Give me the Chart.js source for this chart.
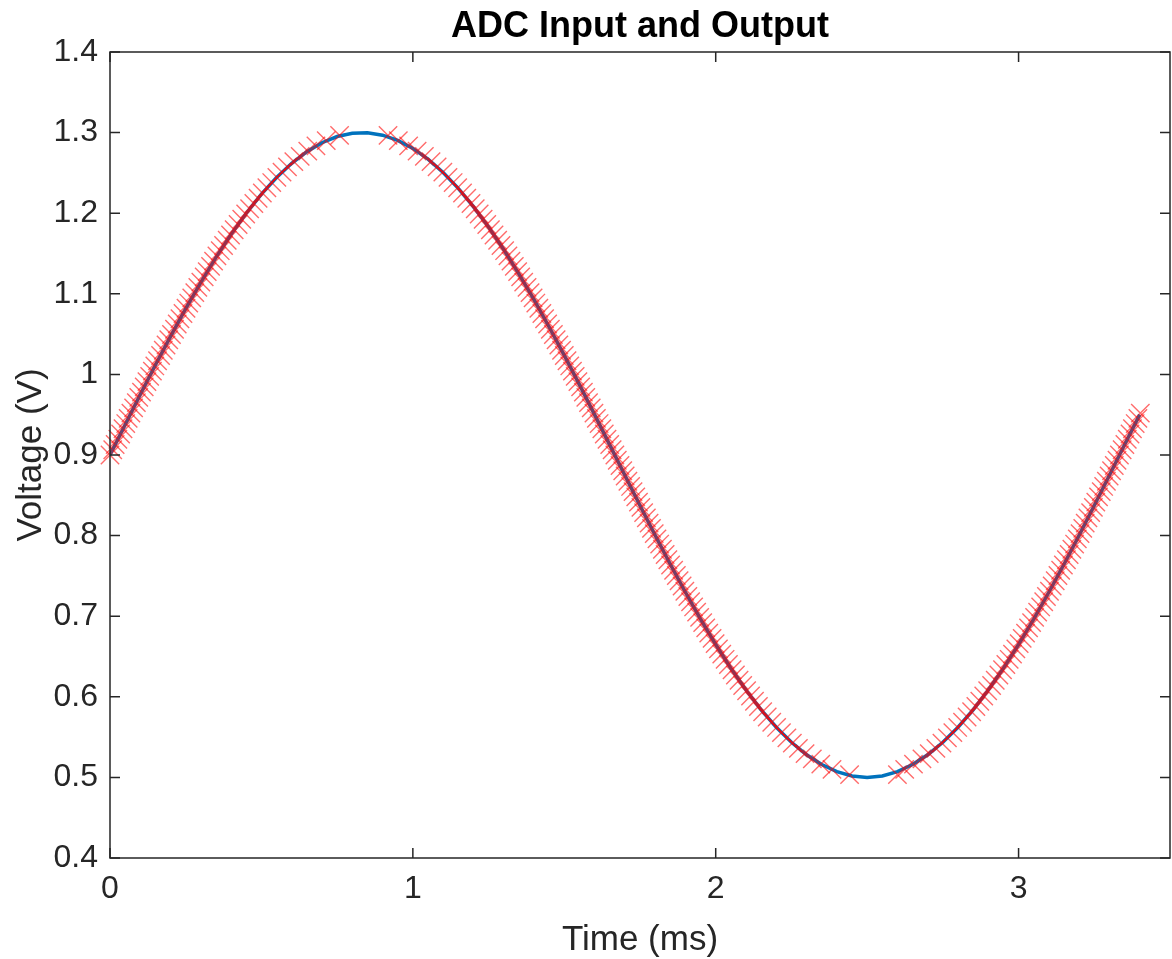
<!DOCTYPE html>
<html>
<head>
<meta charset="utf-8">
<title>ADC Input and Output</title>
<script src="https://cdn.jsdelivr.net/npm/chart.js@4.4.1/dist/chart.umd.min.js"></script>
<style>
  html, body { margin: 0; padding: 0; background: #ffffff; }
  #adc-chart { display: block; }
</style>
</head>
<body>
<canvas id="adc-chart" width="1172" height="959"></canvas>
<script>
// 입력 신호 (파란 선) - 시간(ms), 전압(V)
const inTime = [
  0, 0.05, 0.1, 0.15, 0.2, 0.25, 0.3, 0.35, 0.4, 0.45,
  0.5, 0.55, 0.6, 0.65, 0.7, 0.75, 0.8, 0.85, 0.9, 0.95,
  1.0, 1.05, 1.1, 1.15, 1.2, 1.25, 1.3, 1.35, 1.4, 1.45,
  1.5, 1.55, 1.6, 1.65, 1.7, 1.75, 1.8, 1.85, 1.9, 1.95,
  2.0, 2.05, 2.1, 2.15, 2.2, 2.25, 2.3, 2.35, 2.4, 2.45,
  2.5, 2.55, 2.6, 2.65, 2.7, 2.75, 2.8, 2.85, 2.9, 2.95,
  3.0, 3.05, 3.1, 3.15, 3.2, 3.25, 3.3, 3.35, 3.4
];
const inVolt = [
  0.9000, 0.9376, 0.9750, 1.0116, 1.0472, 1.0816, 1.1143, 1.1452, 1.1738, 1.2000,
  1.2236, 1.2443, 1.2619, 1.2764, 1.2874, 1.2951, 1.2992, 1.2998, 1.2968, 1.2904,
  1.2804, 1.2671, 1.2505, 1.2308, 1.2082, 1.1828, 1.1550, 1.1248, 1.0927, 1.0588,
  1.0236, 0.9873, 0.9501, 0.9126, 0.8749, 0.8374, 0.8005, 0.7645, 0.7297, 0.6964,
  0.6649, 0.6355, 0.6084, 0.5839, 0.5623, 0.5436, 0.5281, 0.5159, 0.5071, 0.5018,
  0.5000, 0.5018, 0.5071, 0.5159, 0.5281, 0.5436, 0.5623, 0.5839, 0.6084, 0.6355,
  0.6649, 0.6964, 0.7297, 0.7645, 0.8005, 0.8374, 0.8749, 0.9126, 0.9501
];

// ADC 출력 레벨 (0.9V 위 / 아래)
const upperLevels = [
  0.9000, 0.9065, 0.9130, 0.9195, 0.9260, 0.9325, 0.9390, 0.9455, 0.9520, 0.9585,
  0.9650, 0.9715, 0.9780, 0.9845, 0.9910, 0.9975, 1.0040, 1.0105, 1.0170, 1.0235,
  1.0300, 1.0365, 1.0430, 1.0495, 1.0560, 1.0625, 1.0690, 1.0755, 1.0820, 1.0885,
  1.0950, 1.1015, 1.1080, 1.1145, 1.1210, 1.1275, 1.1340, 1.1405, 1.1470, 1.1535,
  1.1600, 1.1665, 1.1730, 1.1795, 1.1860, 1.1925, 1.1990, 1.2055, 1.2120, 1.2185,
  1.2250, 1.2315, 1.2380, 1.2445, 1.2510, 1.2575, 1.2640, 1.2705, 1.2770, 1.2835,
  1.2900, 1.2965
];
const lowerLevels = [
  0.8935, 0.8870, 0.8805, 0.8740, 0.8675, 0.8610, 0.8545, 0.8480, 0.8415, 0.8350,
  0.8285, 0.8220, 0.8155, 0.8090, 0.8025, 0.7960, 0.7895, 0.7830, 0.7765, 0.7700,
  0.7635, 0.7570, 0.7505, 0.7440, 0.7375, 0.7310, 0.7245, 0.7180, 0.7115, 0.7050,
  0.6985, 0.6920, 0.6855, 0.6790, 0.6725, 0.6660, 0.6595, 0.6530, 0.6465, 0.6400,
  0.6335, 0.6270, 0.6205, 0.6140, 0.6075, 0.6010, 0.5945, 0.5880, 0.5815, 0.5750,
  0.5685, 0.5620, 0.5555, 0.5490, 0.5425, 0.5360, 0.5295, 0.5230, 0.5165, 0.5100,
  0.5035
];

// 각 레벨에 도달한 시각 (ms)
const rise1Times = [
  0.000, 0.009, 0.017, 0.026, 0.035, 0.043, 0.052, 0.060, 0.069, 0.078,
  0.087, 0.095, 0.104, 0.113, 0.122, 0.131, 0.140, 0.148, 0.157, 0.167,
  0.176, 0.185, 0.194, 0.203, 0.213, 0.222, 0.231, 0.241, 0.251, 0.260,
  0.270, 0.280, 0.290, 0.300, 0.311, 0.321, 0.332, 0.342, 0.353, 0.364,
  0.375, 0.387, 0.398, 0.410, 0.423, 0.435, 0.448, 0.461, 0.475, 0.489,
  0.503, 0.518, 0.534, 0.551, 0.568, 0.586, 0.607, 0.628, 0.653, 0.680,
  0.714, 0.758
];
const fallHighTimes = [
  1.667, 1.658, 1.650, 1.641, 1.632, 1.624, 1.615, 1.606, 1.598, 1.589,
  1.580, 1.571, 1.563, 1.554, 1.545, 1.536, 1.527, 1.518, 1.509, 1.500,
  1.491, 1.482, 1.473, 1.464, 1.454, 1.445, 1.435, 1.426, 1.416, 1.406,
  1.397, 1.387, 1.377, 1.366, 1.356, 1.346, 1.335, 1.324, 1.314, 1.303,
  1.291, 1.280, 1.268, 1.256, 1.244, 1.232, 1.219, 1.206, 1.192, 1.178,
  1.164, 1.148, 1.133, 1.116, 1.099, 1.080, 1.060, 1.038, 1.014, 0.986,
  0.952, 0.918
];
const fallLowTimes = [
  1.675, 1.684, 1.693, 1.701, 1.710, 1.719, 1.727, 1.736, 1.745, 1.753,
  1.762, 1.771, 1.780, 1.788, 1.797, 1.806, 1.815, 1.824, 1.833, 1.842,
  1.851, 1.861, 1.870, 1.879, 1.889, 1.898, 1.908, 1.917, 1.927, 1.937,
  1.947, 1.957, 1.967, 1.977, 1.988, 1.998, 2.009, 2.020, 2.031, 2.042,
  2.054, 2.065, 2.077, 2.089, 2.102, 2.115, 2.128, 2.141, 2.155, 2.170,
  2.185, 2.201, 2.217, 2.235, 2.253, 2.273, 2.295, 2.319, 2.347, 2.384,
  2.442
];
const riseLowTimes = [
  3.325, 3.316, 3.307, 3.299, 3.290, 3.281, 3.273, 3.264, 3.255, 3.247,
  3.238, 3.229, 3.220, 3.212, 3.203, 3.194, 3.185, 3.176, 3.167, 3.158,
  3.148, 3.139, 3.130, 3.121, 3.111, 3.102, 3.092, 3.083, 3.073, 3.063,
  3.053, 3.043, 3.033, 3.023, 3.012, 3.002, 2.991, 2.980, 2.969, 2.958,
  2.947, 2.935, 2.923, 2.911, 2.898, 2.885, 2.872, 2.859, 2.845, 2.830,
  2.815, 2.799, 2.783, 2.765, 2.747, 2.727, 2.705, 2.681, 2.653, 2.624,
  2.600
];
const rise2Times = [3.333, 3.342, 3.351, 3.359, 3.368, 3.376, 3.385, 3.394, 3.402];

// 축 눈금
const xTickValues = [0, 1, 2, 3];
const yTickValues = [0.4, 0.5, 0.6, 0.7, 0.8, 0.9, 1.0, 1.1, 1.2, 1.3, 1.4];
const yTickLabels = ["0.4", "0.5", "0.6", "0.7", "0.8", "0.9", "1", "1.1", "1.2", "1.3", "1.4"];

const FONT = "'Liberation Sans', Arial, Helvetica, sans-serif";
const AXIS_COLOR = "#262626";
const MARKER_COLOR = "rgba(255, 0, 0, 0.58)";

// 데이터 포인트 만들기
const inputPoints = inTime.map((t, i) => ({ x: t, y: inVolt[i] }));
const outputPoints = [
  ...rise1Times.map((t, i) => ({ x: t, y: upperLevels[i] })),
  ...fallHighTimes.map((t, i) => ({ x: t, y: upperLevels[i] })),
  ...fallLowTimes.map((t, i) => ({ x: t, y: lowerLevels[i] })),
  ...riseLowTimes.map((t, i) => ({ x: t, y: lowerLevels[i] })),
  ...rise2Times.map((t, i) => ({ x: t, y: upperLevels[i] })),
];

// MATLAB 스타일 박스 + 안쪽 눈금 + 제목/축 제목
const matlabAxes = {
  id: "matlabAxes",
  afterDraw(chart) {
    const { ctx, chartArea: area, scales } = chart;
    const tickLen = 10;
    ctx.save();
    ctx.strokeStyle = AXIS_COLOR;
    ctx.lineWidth = 1.5;
    ctx.strokeRect(area.left, area.top, area.right - area.left, area.bottom - area.top);

    ctx.beginPath();
    xTickValues.forEach((v) => {
      const x = scales.x.getPixelForValue(v);
      ctx.moveTo(x, area.bottom);
      ctx.lineTo(x, area.bottom - tickLen);
      ctx.moveTo(x, area.top);
      ctx.lineTo(x, area.top + tickLen);
    });
    yTickValues.forEach((v) => {
      const y = scales.y.getPixelForValue(v);
      ctx.moveTo(area.left, y);
      ctx.lineTo(area.left + tickLen, y);
      ctx.moveTo(area.right, y);
      ctx.lineTo(area.right - tickLen, y);
    });
    ctx.stroke();

    const centerX = (area.left + area.right) / 2;
    ctx.textAlign = "center";
    ctx.textBaseline = "alphabetic";

    // 제목
    ctx.fillStyle = "#000000";
    ctx.font = "bold 36px " + FONT;
    ctx.fillText("ADC Input and Output", centerX, 37);

    // x축 제목
    ctx.fillStyle = AXIS_COLOR;
    ctx.font = "35px " + FONT;
    ctx.fillText("Time (ms)", centerX, 950);

    // y축 제목 (세로)
    ctx.translate(41, (area.top + area.bottom) / 2);
    ctx.rotate(-Math.PI / 2);
    ctx.fillText("Voltage (V)", 0, 0);
    ctx.restore();
  },
};

const ctx = document.getElementById("adc-chart").getContext("2d");

window.adcChart = new Chart(ctx, {
  type: "scatter",
  data: {
    datasets: [
      {
        label: "ADC Output",
        data: outputPoints,
        showLine: false,
        pointStyle: "crossRot",
        pointRadius: 13,
        pointHoverRadius: 13,
        pointBorderWidth: 1.4,
        borderColor: MARKER_COLOR,
        backgroundColor: MARKER_COLOR,
        pointBorderColor: MARKER_COLOR,
        pointBackgroundColor: MARKER_COLOR,
        clip: false,
        order: 1,
      },
      {
        label: "Input",
        data: inputPoints,
        showLine: true,
        borderColor: "#0072BD",
        borderWidth: 3.5,
        pointRadius: 0,
        tension: 0,
        order: 2,
      },
    ],
  },
  options: {
    responsive: false,
    animation: false,
    devicePixelRatio: 1,
    layout: {
      autoPadding: false, // 포인트 크기 여백 제거
      padding: { top: 52, right: 2, left: 0, bottom: 0 },
    },
    plugins: {
      legend: { display: false },
      title: { display: false },
      tooltip: { enabled: false },
    },
    scales: {
      x: {
        type: "linear",
        min: 0,
        max: 3.5,
        grid: { display: false, drawTicks: false },
        border: { display: false },
        afterBuildTicks: (scale) => {
          scale.ticks = xTickValues.map((v) => ({ value: v }));
        },
        afterFit: (scale) => {
          scale.height = 101; // 아래 여백 고정
        },
        ticks: {
          color: AXIS_COLOR,
          font: { size: 32, family: FONT },
          padding: 12,
          maxRotation: 0,
          autoSkip: false,
        },
      },
      y: {
        type: "linear",
        min: 0.4,
        max: 1.4,
        grid: { display: false, drawTicks: false },
        border: { display: false },
        afterBuildTicks: (scale) => {
          scale.ticks = yTickValues.map((v) => ({ value: v }));
        },
        afterFit: (scale) => {
          scale.width = 110; // 왼쪽 여백 고정
        },
        ticks: {
          color: AXIS_COLOR,
          font: { size: 32, family: FONT },
          padding: 12,
          autoSkip: false,
          callback: function (value, index) {
            return yTickLabels[index];
          },
        },
      },
    },
  },
  plugins: [matlabAxes],
});
</script>
</body>
</html>
